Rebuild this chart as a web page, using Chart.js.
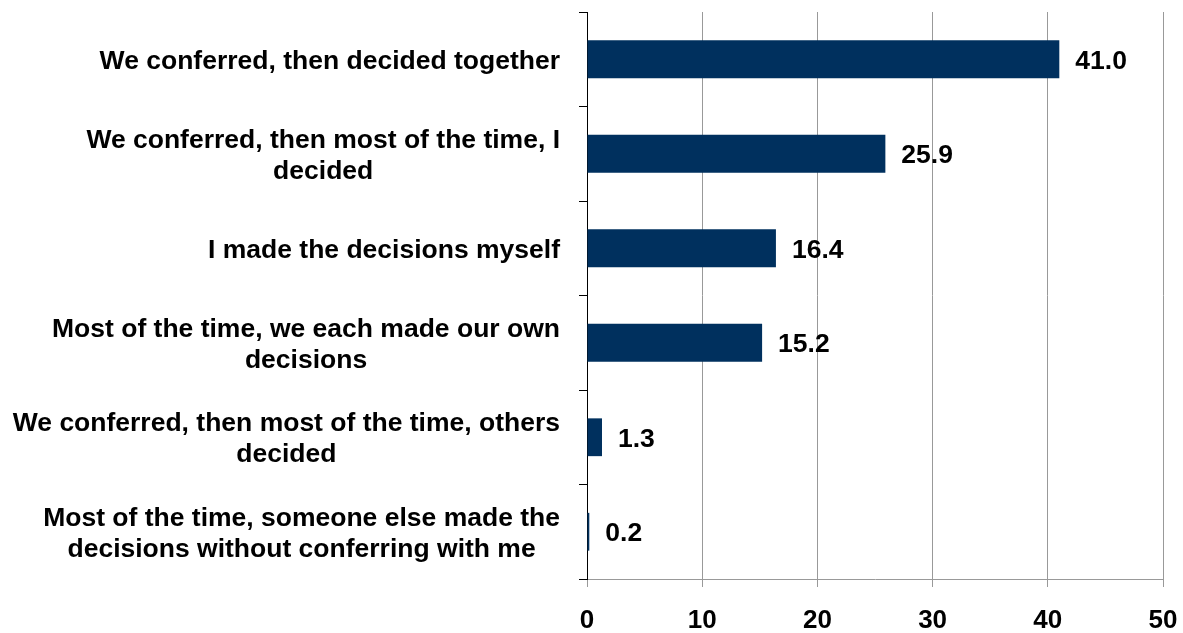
<!DOCTYPE html>
<html>
<head>
<meta charset="utf-8">
<script src="https://cdn.jsdelivr.net/npm/chart.js@4"></script>
<style>
    html, body { margin: 0; padding: 0; background: #ffffff; }
    #wrap { width: 1183px; height: 633px; }
</style>
</head>
<body>
<div id="wrap"><canvas id="chart" width="1183" height="633"></canvas></div>
<script>
// Chart data
const categories = [
    ['We conferred, then decided together'],
    ['We conferred, then most of the time, I', 'decided'],
    ['I made the decisions myself'],
    ['Most of the time, we each made our own', 'decisions'],
    ['We conferred, then most of the time, others', 'decided'],
    ['Most of the time, someone else made the', 'decisions without conferring with me']
];
const values = [41.0, 25.9, 16.4, 15.2, 1.3, 0.2];
const xTicks = [0, 10, 20, 30, 40, 50];

const barColor = '#00305E';
const labelFont = 'bold 26.5px "Liberation Sans", Arial, sans-serif';

// Category labels: right-aligned block, lines centered inside it
const categoryLabels = {
    id: 'categoryLabels',
    afterDraw(chart) {
        const ctx = chart.ctx;
        const yScale = chart.scales.y;
        const rightEdge = yScale.right - 27;
        const lineH = 31;
        ctx.save();
        ctx.font = labelFont;
        ctx.fillStyle = '#000000';
        ctx.textAlign = 'center';
        ctx.textBaseline = 'middle';
        categories.forEach((lines, i) => {
            const cy = yScale.getPixelForValue(i) + 2;
            const widest = Math.max(...lines.map(l => ctx.measureText(l).width));
            const cx = rightEdge - widest / 2;
            lines.forEach((line, j) => {
                ctx.fillText(line, cx, cy + (j - (lines.length - 1) / 2) * lineH);
            });
        });
        ctx.restore();
    }
};

// Value labels at the end of each bar
const valueLabels = {
    id: 'valueLabels',
    afterDatasetsDraw(chart) {
        const ctx = chart.ctx;
        const meta = chart.getDatasetMeta(0);
        ctx.save();
        ctx.font = labelFont;
        ctx.fillStyle = '#000000';
        ctx.textAlign = 'left';
        ctx.textBaseline = 'middle';
        meta.data.forEach((bar, i) => {
            ctx.fillText(values[i].toFixed(1), bar.x + 16, bar.y + 2);
        });
        ctx.restore();
    }
};

const ctx = document.getElementById('chart').getContext('2d');
new Chart(ctx, {
    type: 'bar',
    data: {
        labels: categories,
        datasets: [{
            data: values,
            backgroundColor: barColor,
            borderWidth: 0,
            categoryPercentage: 1.0,
            barPercentage: 0.4
        }]
    },
    options: {
        indexAxis: 'y',
        responsive: false,
        animation: false,
        layout: {
            padding: { top: 12, right: 20, left: 0, bottom: 0 }
        },
        plugins: {
            legend: { display: false },
            tooltip: { enabled: false }
        },
        scales: {
            x: {
                min: 0,
                max: 50,
                afterBuildTicks(scale) {
                    scale.ticks = xTicks.map(v => ({ value: v }));
                },
                afterFit(scale) {
                    scale.height = 54;
                    scale.paddingLeft = 0;
                    scale.paddingRight = 0;
                },
                grid: {
                    color: '#999999',
                    lineWidth: 1,
                    tickLength: 8
                },
                border: { color: '#999999', width: 1 },
                ticks: {
                    color: '#000000',
                    padding: 18,
                    font: { family: '"Liberation Sans", Arial, sans-serif', size: 26, weight: 'bold' }
                }
            },
            y: {
                afterFit(scale) {
                    scale.width = 587;
                },
                grid: {
                    offset: true,
                    drawOnChartArea: false,
                    color: '#000000',
                    tickLength: 8
                },
                border: { color: '#000000', width: 1 },
                ticks: { display: false }
            }
        }
    },
    plugins: [categoryLabels, valueLabels]
});
</script>
</body>
</html>
